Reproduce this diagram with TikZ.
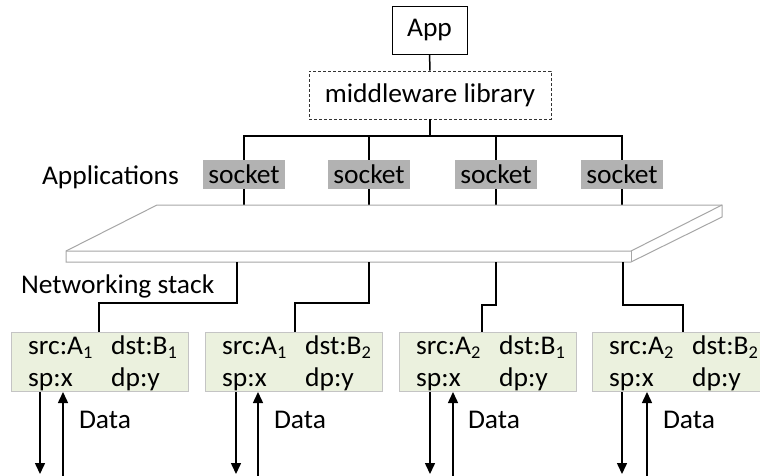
\documentclass[tikz,border=0pt]{standalone}
\usepackage{fontspec}
\setmainfont{Carlito}[FakeStretch=1.02]
\usetikzlibrary{positioning, arrows.meta, calc}
\definecolor{flowfill}{HTML}{EBF1DE}
\definecolor{flowline}{HTML}{C4C4C4}
\definecolor{sockfill}{HTML}{B2B2B2}
\definecolor{slabline}{HTML}{A6A6A6}
\newcommand{\low}[1]{\raisebox{-0.3ex}{\fontsize{18}{18}\selectfont #1}}
\newcommand{\flowtab}[4]{\begin{tabular}{@{}p{83pt}@{}l@{}}#1 & #2\\#3 & #4\end{tabular}}

\begin{document}
\begin{tikzpicture}[x=1pt,y=-1pt,font=\fontsize{27}{33}\selectfont]
		\tikzstyle{box} = [draw, line width=1, inner sep=0, minimum width=75, minimum height=48]
		\tikzstyle{mwbox} = [draw=black!80, densely dashed, line width=0.8, inner sep=0, minimum width=242, minimum height=48]
		\tikzstyle{sock} = [fill=sockfill, inner sep=0, minimum width=82, minimum height=29]
		\tikzstyle{flow} = [draw=flowline, fill=flowfill, line width=1, anchor=north west, inner sep=0, minimum width=177, minimum height=59]
		\tikzstyle{flowtext} = [anchor=west, inner sep=0, font=\fontsize{27}{32}\selectfont]
		\tikzstyle{wire} = [draw, line width=1.5]
		\tikzstyle{arrow} = [-{Triangle[length=11pt,width=10pt]}, line width=1.5]
		\tikzstyle{slab} = [draw=slabline, fill=white, line width=1]
		\tikzstyle{invisible} = [outer sep=0,inner sep=0,minimum size=0]
		\useasboundingbox (0,0) rectangle (760,475);
		\clip (0,0) rectangle (760,475);
		% app and library
		\node [box] (v1) at (429.5,30) {App};
		\node [mwbox] (v2) at (430,95) {middleware library};
		\coordinate (v3) at (430,136);
		\node [sock] (v6) at (244,174.5) {socket};
		\node [sock] (v7) at (369,174.5) {socket};
		\node [sock] (v8) at (496,174.5) {socket};
		\node [sock] (v9) at (622,174.5) {socket};
		\draw [wire] (v1) -- (v2);
		\draw [wire] (v2) -- (v3);
		\draw [wire] (v6) |- (v3) -| (v9);
		\draw [wire] (v7) |- (v3);
		\draw [wire] (v8) |- (v3);
		\node [invisible, anchor=west] (v_app) at (42,177) {Applications};
		% plate
		\coordinate (p1) at (244,205);
		\coordinate (p2) at (369,205);
		\coordinate (p3) at (496,205);
		\coordinate (p4) at (622,205);
		\draw [wire] (v6) -- (p1);
		\draw [wire] (v7) -- (p2);
		\draw [wire] (v8) -- (p3);
		\draw [wire] (v9) -- (p4);
		\path [slab] (157,205) -- (722,205) -- (722,217) -- (631,262) -- (66,262) -- (66,251) -- cycle;
		\draw [slabline, line width=1] (66,251) -- (631,251) -- (722,205);
		\draw [slabline, line width=1] (631,251) -- (631,262);
		\node [invisible, anchor=west] (v_net) at (21,286) {Networking stack};
		% flows
		\node [flow] (v10) at (11,332) {};
		\node [flow] (v11) at (205,332) {};
		\node [flow] (v12) at (399,332) {};
		\node [flow] (v13) at (592,332) {};
		\node [flowtext] (t10) at ($(v10.west)+(17,2)$) {\flowtab{src:A\low{1}}{dst:B\low{1}}{sp:x}{dp:y}};
		\node [flowtext] (t11) at ($(v11.west)+(17,2)$) {\flowtab{src:A\low{1}}{dst:B\low{2}}{sp:x}{dp:y}};
		\node [flowtext] (t12) at ($(v12.west)+(17,2)$) {\flowtab{src:A\low{2}}{dst:B\low{1}}{sp:x}{dp:y}};
		\node [flowtext] (t13) at ($(v13.west)+(17,2)$) {\flowtab{src:A\low{2}}{dst:B\low{2}}{sp:x}{dp:y}};
		\coordinate (q1) at (237,262);
		\coordinate (q2) at (369,262);
		\coordinate (q3) at (496,262);
		\coordinate (q4) at (623,262);
		\coordinate (r1) at (99,303);
		\coordinate (r2) at (295,303);
		\coordinate (r3) at (482,305);
		\coordinate (r4) at (683,305);
		\draw [wire] (q1) |- (r1) -- (r1 |- v10.north);
		\draw [wire] (q2) |- (r2) -- (r2 |- v11.north);
		\draw [wire] (q3) |- (r3) -- (r3 |- v12.north);
		\draw [wire] (q4) |- (r4) -- (r4 |- v13.north);
		% data arrows
		\coordinate (d1) at (40,474);
		\coordinate (d2) at (236,474);
		\coordinate (d3) at (430,474);
		\coordinate (d4) at (622,474);
		\coordinate (u1) at (63,476);
		\coordinate (u2) at (258,476);
		\coordinate (u3) at (453,476);
		\coordinate (u4) at (647,476);
		\draw [arrow] (d1 |- v10.south) -- (d1);
		\draw [arrow] (d2 |- v11.south) -- (d2);
		\draw [arrow] (d3 |- v12.south) -- (d3);
		\draw [arrow] (d4 |- v13.south) -- (d4);
		\draw [arrow] (u1) -- (u1 |- v10.south);
		\draw [arrow] (u2) -- (u2 |- v11.south);
		\draw [arrow] (u3) -- (u3 |- v12.south);
		\draw [arrow] (u4) -- (u4 |- v13.south);
		\node [invisible, anchor=west] (v14) at (79,420) {Data};
		\node [invisible, anchor=west] (v15) at (274,420) {Data};
		\node [invisible, anchor=west] (v16) at (468,420) {Data};
		\node [invisible, anchor=west] (v17) at (663,420) {Data};
\end{tikzpicture}
\end{document}
